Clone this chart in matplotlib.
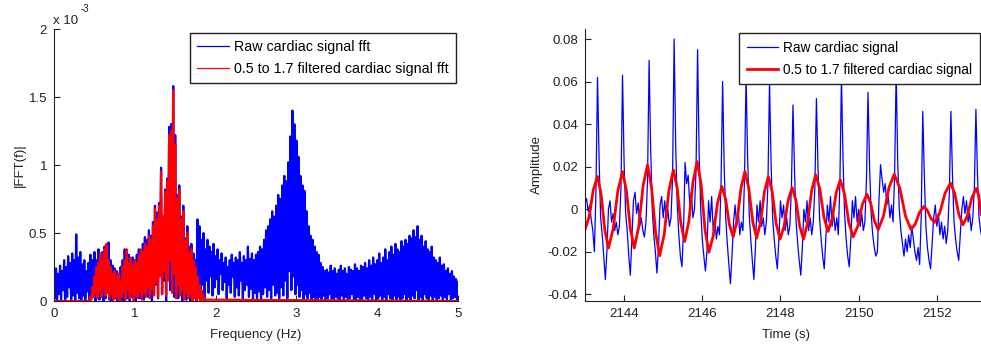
import numpy as np
import matplotlib
matplotlib.use("Agg")
import matplotlib.pyplot as plt

plt.rcParams['font.family'] = ['Liberation Sans', 'DejaVu Sans']

# --- spectre (|FFT|, en 1e-3) ---
# sommets du signal brut, tous les 0.025 Hz de 0 a 5 Hz
fft_raw_hi = [
    0.18, 0.24, 0.20, 0.26, 0.22, 0.30, 0.25, 0.33, 0.28, 0.35,
    0.30, 0.49, 0.32, 0.36, 0.27, 0.30, 0.22, 0.28, 0.34, 0.30,
    0.36, 0.30, 0.38, 0.32, 0.36, 0.40, 0.33, 0.43, 0.30, 0.26,
    0.24, 0.22, 0.20, 0.25, 0.30, 0.38, 0.28, 0.34, 0.30, 0.32,
    0.30, 0.34, 0.38, 0.35, 0.42, 0.47, 0.45, 0.52, 0.48, 0.58,
    0.70, 0.65, 0.72, 0.98, 0.62, 0.82, 0.90, 1.28, 1.30, 1.58,
    1.22, 0.78, 0.85, 0.62, 0.70, 0.46, 0.55, 0.40, 0.42, 0.35,
    0.30, 0.60, 0.55, 0.45, 0.50, 0.38, 0.45, 0.40, 0.36, 0.42,
    0.33, 0.38, 0.30, 0.35, 0.28, 0.32, 0.25, 0.30, 0.34, 0.28,
    0.32, 0.30, 0.36, 0.28, 0.33, 0.30, 0.40, 0.31, 0.35, 0.30,
    0.34, 0.36, 0.40, 0.38, 0.45, 0.52, 0.55, 0.60, 0.66, 0.62,
    0.70, 0.78, 0.75, 0.85, 0.92, 0.88, 1.02, 1.21, 1.40, 1.30,
    1.18, 1.06, 0.92, 0.85, 0.81, 0.66, 0.55, 0.48, 0.45, 0.40,
    0.36, 0.34, 0.28, 0.25, 0.22, 0.23, 0.21, 0.26, 0.22, 0.24,
    0.20, 0.23, 0.26, 0.22, 0.24, 0.20, 0.25, 0.23, 0.22, 0.27,
    0.24, 0.22, 0.26, 0.25, 0.28, 0.24, 0.30, 0.26, 0.32, 0.27,
    0.30, 0.35, 0.28, 0.32, 0.38, 0.30, 0.36, 0.40, 0.34, 0.42,
    0.38, 0.36, 0.44, 0.40, 0.45, 0.42, 0.48, 0.46, 0.52, 0.47,
    0.55, 0.45, 0.48, 0.40, 0.44, 0.38, 0.36, 0.40, 0.32, 0.30,
    0.28, 0.32, 0.26, 0.27, 0.22, 0.24, 0.20, 0.22, 0.18, 0.16,
    0.14]
# creux entre deux sommets
fft_raw_lo = [
    0.02, 0.00, 0.05, 0.01, 0.08, 0.00, 0.03, 0.10, 0.01, 0.04,
    0.00, 0.06, 0.02, 0.00, 0.04, 0.01, 0.07, 0.00, 0.02, 0.05,
    0.00, 0.03, 0.01, 0.05, 0.00, 0.02, 0.06, 0.01, 0.00, 0.03,
    0.02, 0.00, 0.04, 0.01, 0.00, 0.05, 0.02, 0.00, 0.03, 0.01,
    0.00, 0.04, 0.02, 0.06, 0.01, 0.10, 0.03, 0.08, 0.00, 0.05,
    0.12, 0.02, 0.20, 0.05, 0.15, 0.00, 0.25, 0.08, 0.18, 0.03,
    0.10, 0.02, 0.15, 0.00, 0.06, 0.01, 0.08, 0.00, 0.04, 0.02,
    0.00, 0.08, 0.03, 0.12, 0.02, 0.15, 0.06, 0.18, 0.04, 0.10,
    0.16, 0.05, 0.20, 0.08, 0.14, 0.02, 0.12, 0.06, 0.18, 0.03,
    0.10, 0.04, 0.15, 0.02, 0.08, 0.12, 0.03, 0.09, 0.01, 0.06,
    0.02, 0.07, 0.00, 0.05, 0.10, 0.03, 0.08, 0.02, 0.12, 0.04,
    0.06, 0.02, 0.10, 0.04, 0.15, 0.02, 0.22, 0.08, 0.18, 0.05,
    0.12, 0.03, 0.08, 0.01, 0.05, 0.02, 0.06, 0.00, 0.03, 0.01,
    0.00, 0.03, 0.01, 0.04, 0.00, 0.02, 0.05, 0.01, 0.00, 0.03,
    0.02, 0.00, 0.04, 0.01, 0.03, 0.00, 0.02, 0.05, 0.01, 0.00,
    0.03, 0.01, 0.00, 0.04, 0.02, 0.00, 0.03, 0.01, 0.05, 0.00,
    0.02, 0.04, 0.00, 0.03, 0.01, 0.05, 0.02, 0.00, 0.04, 0.01,
    0.03, 0.00, 0.02, 0.05, 0.01, 0.03, 0.00, 0.04, 0.02, 0.08,
    0.01, 0.03, 0.00, 0.05, 0.02, 0.00, 0.04, 0.01, 0.03, 0.00,
    0.02, 0.04, 0.00, 0.03, 0.01, 0.05, 0.00, 0.02, 0.03, 0.01]
# signal filtre : sommets tous les 0.025 Hz de 0.425 a 1.875 Hz, nul ailleurs
fft_filt_hi = [
    0.00, 0.03, 0.10, 0.18, 0.25, 0.28, 0.35, 0.30, 0.38, 0.42,
    0.30, 0.25, 0.20, 0.22, 0.18, 0.20, 0.15, 0.25, 0.30, 0.38,
    0.28, 0.32, 0.26, 0.30, 0.28, 0.33, 0.38, 0.36, 0.42, 0.40,
    0.48, 0.45, 0.55, 0.68, 0.60, 0.70, 0.95, 0.62, 0.80, 0.88,
    1.22, 1.25, 1.55, 1.15, 0.75, 0.82, 0.60, 0.66, 0.44, 0.50,
    0.35, 0.38, 0.30, 0.25, 0.18, 0.12, 0.08, 0.04, 0.01]
fft_filt_lo = [
    0.00, 0.01, 0.03, 0.05, 0.02, 0.08, 0.03, 0.10, 0.04, 0.06,
    0.02, 0.05, 0.01, 0.04, 0.02, 0.00, 0.03, 0.06, 0.01, 0.08,
    0.02, 0.05, 0.00, 0.04, 0.02, 0.07, 0.01, 0.06, 0.03, 0.10,
    0.02, 0.08, 0.04, 0.14, 0.03, 0.18, 0.05, 0.22, 0.04, 0.15,
    0.30, 0.06, 0.20, 0.02, 0.12, 0.04, 0.08, 0.01, 0.06, 0.02,
    0.05, 0.00, 0.03, 0.01, 0.02, 0.00, 0.01, 0.00]
fft_xticks = [0, 1, 2, 3, 4, 5]
fft_yticks = [0, 0.5, 1, 1.5, 2]
fft_ytick_labels = ['0', '0.5', '1', '1.5', '2']

# --- signal temporel (en 1e-3), echantillonne toutes les 0.04 s depuis 2143 s ---
raw_sig = [
    3, 5, -1, 2, -5, -10, -20, 8, 62, 24,
    -4, -12, -22, -33, -20, 0, 4, -6, -2, -10,
    -6, -12, -8, 10, 63, 22, -2, -10, -22, -31,
    -14, 4, 8, -2, 3, -8, -4, -10, -13, -6,
    14, 70, 28, 0, -12, -20, -30, -18, 2, 6,
    -4, 4, -6, 0, -8, -4, 15, 80, 30, 2,
    -12, -22, -27, -10, 22, 12, 16, 2, 8, -4,
    0, 18, 75, 26, 0, -14, -22, -29, -20, 4,
    -6, 6, -10, -4, -14, -8, -12, 12, 60, 20,
    -4, -16, -26, -35, -22, -6, 2, -8, 0, -12,
    -6, -10, 14, 63, 24, -2, -14, -24, -33, -18,
    2, -6, 4, -8, -4, -12, -6, 12, 60, 22,
    -4, -14, -22, -28, -14, 4, -4, 2, -10, -4,
    -12, -8, 10, 49, 18, -6, -16, -24, -31, -18,
    0, -6, 4, -10, -4, -12, -6, 10, 52, 20,
    -4, -14, -22, -28, -14, 2, -6, 6, -8, -2,
    -10, -4, -12, 12, 62, 24, -2, -14, -22, -27,
    -14, 4, -4, 6, -6, 0, -8, -2, -10, -6,
    14, 55, 20, -2, -12, -18, -22, -20, 4, 21,
    14, 8, 12, 2, 6, -4, 2, -6, 16, 65,
    22, 0, -10, -16, -22, -14, -20, -12, -18, -8,
    -14, -20, -24, -18, -26, -4, 46, 16, -8, -18,
    -24, -28, -16, -4, 2, -8, -2, -12, -6, -14,
    -8, -16, -10, 8, 46, 16, -6, -14, -20, -24,
    -12, 0, 6, -2, 4, -6, -2, -10, -4, 10,
    47, 16, -4, -10, -14]
filt_t = [2143.00, 2143.107, 2143.213, 2143.32, 2143.413, 2143.507, 2143.60,
          2143.72, 2143.84, 2143.96, 2144.06, 2144.16, 2144.26, 2144.373,
          2144.487, 2144.60, 2144.703, 2144.807, 2144.91, 2145.027, 2145.143,
          2145.26, 2145.357, 2145.453, 2145.55, 2145.657, 2145.763, 2145.87,
          2145.97, 2146.07, 2146.17, 2146.28, 2146.39, 2146.50, 2146.597,
          2146.693, 2146.79, 2146.89, 2146.99, 2147.09, 2147.19, 2147.29,
          2147.39, 2147.49, 2147.59, 2147.69, 2147.79, 2147.89, 2147.99,
          2148.093, 2148.197, 2148.30, 2148.397, 2148.493, 2148.59, 2148.693,
          2148.797, 2148.90, 2149.007, 2149.113, 2149.22, 2149.323, 2149.427,
          2149.53, 2149.64, 2149.75, 2149.86, 2149.977, 2150.093, 2150.21,
          2150.307, 2150.403, 2150.50, 2150.637, 2150.773, 2150.91, 2151.053,
          2151.197, 2151.34, 2151.45, 2151.56, 2151.67, 2151.76, 2151.85,
          2151.94, 2152.077, 2152.213, 2152.35, 2152.457, 2152.563, 2152.67,
          2152.783, 2152.897, 2153.01, 2153.07, 2153.14]
filt_sig = [-9.6, -3.4, 9.2, 15.4, 7.0, -9.8, -18.2, -9.2, 8.7, 17.7,
            8.7, -9.2, -18.2, -8.4, 11.1, 20.9, 10.2, -11.1, -21.8, -11.7,
            8.4, 18.5, 10.1, -6.7, -15.1, -5.7, 13.0, 22.4, 11.8, -9.6,
            -20.2, -12.5, 3.0, 10.7, 4.8, -7.1, -13.0, -5.3, 10.0, 17.7,
            9.9, -5.7, -13.5, -6.3, 8.2, 15.4, 8.1, -6.7, -14.0, -8.0,
            4.2, 10.2, 4.2, -8.0, -14.0, -6.5, 8.7, 16.2, 9.6, -3.8,
            -10.4, -4.4, 7.8, 13.8, 7.1, -6.3, -13.0, -8.0, 2.1, 7.1,
            2.9, -5.4, -9.6, -3.1, 10.0, 16.5, 10.0, -3.1, -9.6, -6.9,
            -1.4, 1.3, -0.6, -4.3, -6.2, -1.6, 7.7, 12.3, 7.4, -2.4,
            -7.3, -3.0, 5.5, 9.8, 6.5, -2.5]
time_xticks = [2144, 2146, 2148, 2150, 2152]
time_yticks = [-0.04, -0.02, 0, 0.02, 0.04, 0.06, 0.08]
time_ytick_labels = ['-0.04', '-0.02', '0', '0.02', '0.04', '0.06', '0.08']

# --- construction des courbes : sommet, creux, sommet, ...
f_hi = 0.025 * np.arange(len(fft_raw_hi))
f_lo = f_hi[:-1] + 0.0125
fr = np.empty(len(f_hi) + len(f_lo))
vr = np.empty_like(fr)
fr[0::2], fr[1::2] = f_hi, f_lo
vr[0::2], vr[1::2] = fft_raw_hi, fft_raw_lo

g_hi = 0.425 + 0.025 * np.arange(len(fft_filt_hi))
g_lo = g_hi[:-1] + 0.0125
ff = np.empty(len(g_hi) + len(g_lo))
vf = np.empty_like(ff)
ff[0::2], ff[1::2] = g_hi, g_lo
vf[0::2], vf[1::2] = fft_filt_hi, fft_filt_lo
ff = np.concatenate([[0.0], ff, [5.0]])
vf = np.concatenate([[0.0], vf, [0.0]])

t_raw = 2143 + 0.04 * np.arange(len(raw_sig))

fig = plt.figure(figsize=(9.81, 3.47), dpi=100)
ax1 = fig.add_axes([54 / 981, 46 / 347, 404 / 981, 272 / 347])
ax2 = fig.add_axes([585 / 981, 46 / 347, 396 / 981, 272 / 347])

l1, = ax1.plot(fr, vr * 1e-3, color='#0000ff', lw=1.6)
l2, = ax1.plot(ff, vf * 1e-3, color='#ff0000', lw=1.6)
ax1.set_xlim(0, 5)
ax1.set_ylim(0, 2e-3)
ax1.set_xticks(fft_xticks)
ax1.set_xticklabels([str(x) for x in fft_xticks])
ax1.set_yticks([y * 1e-3 for y in fft_yticks])
ax1.set_yticklabels(fft_ytick_labels)
ax1.set_xlabel('Frequency (Hz)', fontsize=9.5, va='top')
ax1.set_ylabel('|FFT(f)|', fontsize=9.5)
ax1.xaxis.set_label_coords(0.5, -0.103)
ax1.yaxis.set_label_coords(-0.069, 0.5)
leg1 = ax1.legend([l1, l2], ['Raw cardiac signal fft', '0.5 to 1.7 filtered cardiac signal fft'],
                  loc='upper left', bbox_to_anchor=(0.3366, 0.985), borderaxespad=0,
                  fontsize=10.3, fancybox=False, framealpha=1, edgecolor='#222222',
                  handlelength=2.2, handletextpad=0.4, labelspacing=0.55, borderpad=0.5)
for h in leg1.get_lines():
    h.set_linewidth(0.9)
fig.text(53 / 981, 0.931, 'x 10', fontsize=9.5, color='#222222', va='baseline')
fig.text(81 / 981, 0.966, '-3', fontsize=7, color='#222222', va='baseline')

m1, = ax2.plot(t_raw, np.array(raw_sig) * 1e-3, color='#0000ff', lw=0.9)
m2, = ax2.plot(filt_t, np.array(filt_sig) * 1e-3, color='#ff0000', lw=2)
ax2.set_xlim(2143, 2153.13)
ax2.set_ylim(-0.0431, 0.0847)
ax2.set_xticks(time_xticks)
ax2.set_xticklabels([str(x) for x in time_xticks])
ax2.set_yticks(time_yticks)
ax2.set_yticklabels(time_ytick_labels)
ax2.set_xlabel('Time (s)', fontsize=9.5, va='top')
ax2.set_ylabel('Amplitude', fontsize=9.5)
ax2.xaxis.set_label_coords(0.508, -0.103)
ax2.yaxis.set_label_coords(-0.106, 0.5)
ax2.legend([m1, m2], ['Raw cardiac signal', '0.5 to 1.7 filtered cardiac signal'],
           loc='upper left', bbox_to_anchor=(0.389, 0.985), borderaxespad=0,
           fontsize=9.8, fancybox=False, framealpha=1, edgecolor='#222222',
           handlelength=2.3, handletextpad=0.4, labelspacing=0.6, borderpad=0.55)

for ax in (ax1, ax2):
    for side in ('top', 'right'):
        ax.spines[side].set_visible(False)
    for side in ('left', 'bottom'):
        ax.spines[side].set_color('#222222')
        ax.spines[side].set_linewidth(0.8)
    ax.tick_params(direction='in', length=4, width=0.8, colors='#222222',
                   labelsize=9.5, pad=5)
    ax.xaxis.label.set_color('#222222')
    ax.yaxis.label.set_color('#222222')

fig.savefig('out.png', dpi=100)
